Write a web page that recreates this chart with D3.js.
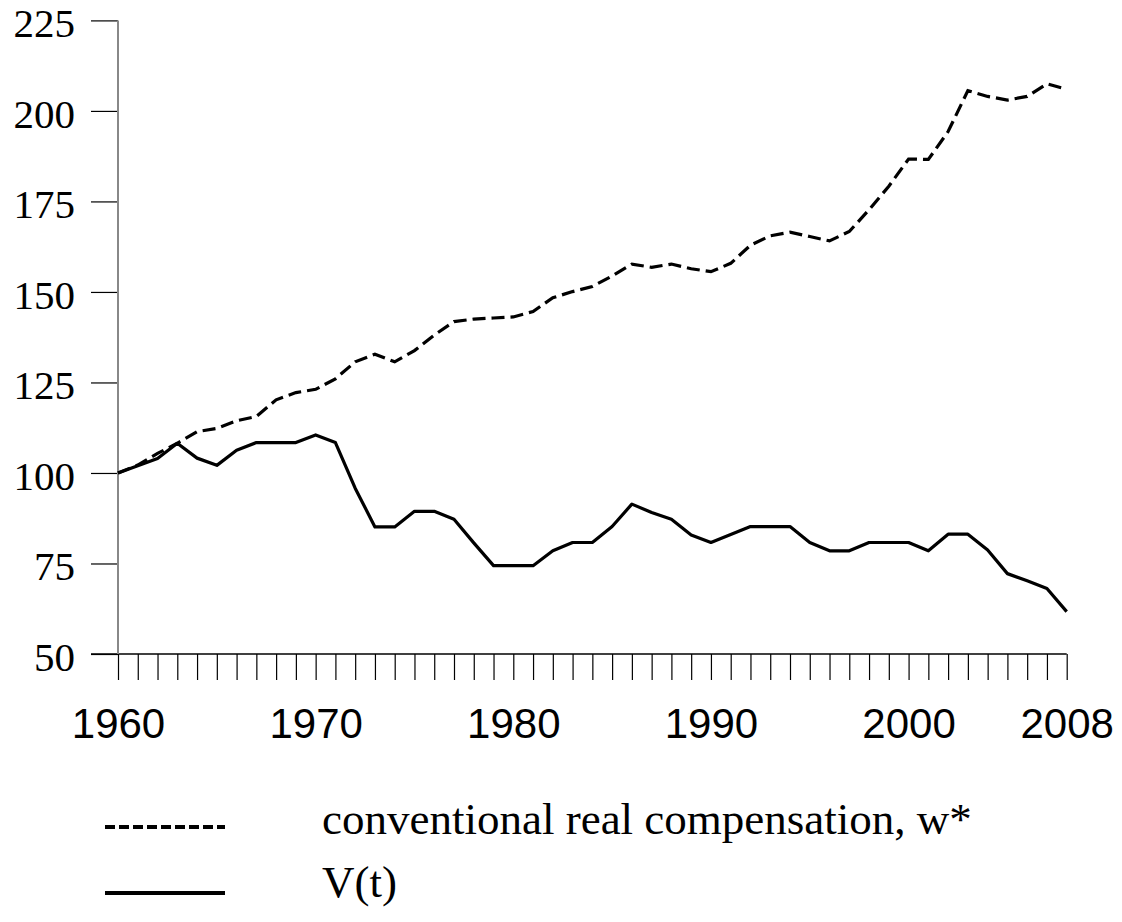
<!DOCTYPE html>
<html>
<head>
<meta charset="utf-8">
<script src="https://cdn.jsdelivr.net/npm/d3@7"></script>
<style>
  html, body { margin: 0; padding: 0; background: #fff; }
  svg { display: block; }
</style>
</head>
<body>
<div id="chart"></div>
<script>
const years = d3.range(1960, 2009);

// conventional real compensation, w* (1960 = 100)
const wStar = [
  100, 102.2, 105.4, 108.2, 111.4, 112.3, 114.4, 115.6, 120.2, 122.2,
  123.1, 126.0, 130.7, 132.8, 130.7, 133.8, 138.1, 141.8, 142.5, 142.8,
  143.1, 144.6, 148.4, 150.1, 151.5, 154.4, 157.7, 156.8, 157.7, 156.4,
  155.6, 157.9, 162.9, 165.5, 166.5, 165.3, 164.1, 166.7, 172.7, 179.2,
  186.7, 186.6, 194.3, 205.6, 204.0, 203.0, 204.0, 207.5, 206.0
];

// V(t)
const vt = [
  100, 102.0, 104.0, 108.2, 104.1, 102.1, 106.3, 108.4, 108.4, 108.4,
  110.5, 108.4, 95.8, 85.1, 85.1, 89.4, 89.4, 87.2, 80.7, 74.4,
  74.4, 74.4, 78.5, 80.8, 80.8, 85.2, 91.4, 89.1, 87.2, 82.9,
  80.8, 83.0, 85.2, 85.2, 85.2, 80.8, 78.5, 78.5, 80.8, 80.8,
  80.8, 78.5, 83.1, 83.1, 78.7, 72.2, 70.2, 68.1, 61.7
];

const xLabels = [1960, 1970, 1980, 1990, 2000, 2008];
const yTicks = [50, 75, 100, 125, 150, 175, 200, 225];

const legendItems = [
  { label: 'conventional real compensation, w*', dashed: true },
  { label: 'V(t)', dashed: false }
];

const width = 1122;
const height = 922;
const dash = '13,6';

const x = d3.scaleLinear().domain([1960, 2008]).range([118, 1066.7]);
const y = d3.scaleLinear().domain([50, 225]).range([654, 20.4]);

const svg = d3.select('#chart')
  .append('svg')
  .attr('width', width)
  .attr('height', height);

// y axis: black ticks, serif labels, grey spine drawn separately
const yAxis = svg.append('g')
  .attr('transform', `translate(${x(1960)},0)`)
  .call(d3.axisLeft(y).tickValues(yTicks).tickSize(27).tickPadding(16));
yAxis.select('.domain').remove();
yAxis.selectAll('.tick line').attr('stroke', '#000').attr('stroke-width', 1.2);
yAxis.selectAll('.tick text')
  .attr('font-family', '"Liberation Serif", "Times New Roman", serif')
  .attr('font-size', 41)
  .attr('fill', '#000')
  .attr('dy', '0.4em');

// x axis: a tick for every year, labels only on some
const xAxis = svg.append('g')
  .attr('transform', `translate(0,${y(50)})`)
  .call(d3.axisBottom(x)
    .tickValues(years)
    .tickSize(26)
    .tickPadding(28)
    .tickFormat((d) => (xLabels.includes(d) ? String(d) : '')));
xAxis.select('.domain').remove();
xAxis.selectAll('.tick line').attr('stroke', '#000').attr('stroke-width', 1.2);
xAxis.selectAll('.tick text')
  .attr('font-family', '"Liberation Sans", Arial, sans-serif')
  .attr('font-size', 42)
  .attr('fill', '#000');

// axis lines
svg.append('line')
  .attr('x1', x(1960) - 27).attr('x2', x(2008))
  .attr('y1', y(50)).attr('y2', y(50))
  .attr('stroke', '#000').attr('stroke-width', 1.4);

svg.append('line')
  .attr('x1', x(1960)).attr('x2', x(1960))
  .attr('y1', y(225)).attr('y2', y(50))
  .attr('stroke', '#888').attr('stroke-width', 2);

// series
const line = d3.line()
  .x((d) => x(d[0]))
  .y((d) => y(d[1]));

svg.append('path')
  .datum(years.map((yr, i) => [yr, wStar[i]]))
  .attr('fill', 'none')
  .attr('stroke', '#000')
  .attr('stroke-width', 3.2)
  .attr('stroke-dasharray', dash)
  .attr('d', line);

svg.append('path')
  .datum(years.map((yr, i) => [yr, vt[i]]))
  .attr('fill', 'none')
  .attr('stroke', '#000')
  .attr('stroke-width', 3.2)
  .attr('stroke-linejoin', 'round')
  .attr('d', line);

// legend
const legend = svg.append('g');
const rows = [827, 893];
legendItems.forEach((item, i) => {
  legend.append('line')
    .attr('x1', 105).attr('x2', 225)
    .attr('y1', rows[i]).attr('y2', rows[i])
    .attr('stroke', '#000')
    .attr('stroke-width', 3.8)
    .attr('stroke-dasharray', item.dashed ? '10,4' : null);
  legend.append('text')
    .attr('x', 322)
    .attr('y', rows[i] + (i === 0 ? 7 : 4))
    .attr('font-family', '"Liberation Serif", "Times New Roman", serif')
    .attr('font-size', 45)
    .attr('fill', '#000')
    .text(item.label);
});
</script>
</body>
</html>
